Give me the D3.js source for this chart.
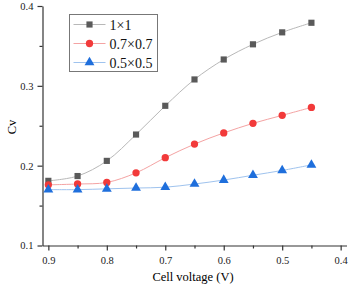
<!DOCTYPE html>
<html>
<head>
<meta charset="utf-8">
<script src="https://cdn.jsdelivr.net/npm/d3@7"></script>
<style>
  body { margin: 0; background: #fff; }
  text { font-family: "Liberation Serif", "Times New Roman", serif; }
</style>
</head>
<body>
<svg id="area" width="354" height="289"></svg>
<script>
const voltages = [0.9, 0.85, 0.8, 0.75, 0.7, 0.65, 0.6, 0.55, 0.5, 0.45];
const cv1x1 = [0.181, 0.187, 0.206, 0.239, 0.275, 0.308, 0.333, 0.352, 0.367, 0.379];
const cv07 = [0.176, 0.177, 0.179, 0.191, 0.210, 0.227, 0.241, 0.253, 0.263, 0.273];
const cv05 = [0.170, 0.170, 0.171, 0.172, 0.173, 0.177, 0.182, 0.188, 0.194, 0.201];
const seriesNames = ['1×1', '0.7×0.7', '0.5×0.5'];
const xTicks = [0.9, 0.8, 0.7, 0.6, 0.5, 0.4];
const yTicks = [0.1, 0.2, 0.3, 0.4];

const series = [
  { name: seriesNames[0], values: cv1x1, marker: d3.symbolSquare, fill: '#5a5a5a', stroke: '#b8b8b8', size: 38 },
  { name: seriesNames[1], values: cv07, marker: d3.symbolCircle, fill: '#f23a3a', stroke: '#f4a3a3', size: 42 },
  { name: seriesNames[2], values: cv05, marker: d3.symbolTriangle, fill: '#1f6fdc', stroke: '#9fc3ee', size: 42 },
];

const svg = d3.select('#area');
const x = d3.scaleLinear().domain([0.91, 0.39]).range([42.5, 346.5]);
const y = d3.scaleLinear().domain([0.1, 0.4]).range([245.5, 6]);

// minor ticks
const xMinor = d3.range(0.85, 0.4, -0.1);
const yMinor = [0.15, 0.25, 0.35];

const xAxis = svg.append('g')
  .attr('transform', `translate(0, ${y(0.1)})`)
  .call(d3.axisBottom(x).tickValues(xTicks).tickFormat(d3.format('.1f')).tickSize(5).tickSizeOuter(0));
svg.append('g')
  .attr('transform', `translate(0, ${y(0.1)})`)
  .call(d3.axisBottom(x).tickValues(xMinor).tickFormat('').tickSize(3).tickSizeOuter(0))
  .select('.domain').remove();

const yAxis = svg.append('g')
  .attr('transform', `translate(${x(0.91)}, 0)`)
  .call(d3.axisLeft(y).tickValues(yTicks).tickFormat(d3.format('.1f')).tickSize(5).tickSizeOuter(0));
svg.append('g')
  .attr('transform', `translate(${x(0.91)}, 0)`)
  .call(d3.axisLeft(y).tickValues(yMinor).tickFormat('').tickSize(3).tickSizeOuter(0))
  .select('.domain').remove();

svg.selectAll('.domain, .tick line').attr('stroke', '#333').attr('stroke-width', 1.2);
svg.selectAll('.tick text')
  .style('font-family', '"Liberation Serif", serif')
  .style('font-size', '10.5px')
  .attr('fill', '#222');
xAxis.selectAll('.tick text').attr('dy', '1.0em');
yAxis.selectAll('.tick text').attr('dx', '-0.1em');

// axis titles
svg.append('text')
  .attr('x', 193).attr('y', 281)
  .attr('text-anchor', 'middle')
  .style('font-size', '12.5px')
  .text('Cell voltage (V)');
svg.append('text')
  .attr('transform', `translate(16, 127) rotate(-90)`)
  .attr('text-anchor', 'middle')
  .style('font-size', '12.5px')
  .text('Cv');

const line = d3.line()
  .curve(d3.curveCatmullRom)
  .x((d, i) => x(voltages[i]))
  .y((d) => y(d));

series.forEach((s) => {
  svg.append('path')
    .datum(s.values)
    .attr('fill', 'none')
    .attr('stroke', s.stroke)
    .attr('stroke-width', 1)
    .attr('d', line);
  svg.selectAll(null)
    .data(s.values)
    .enter().append('path')
    .attr('transform', (d, i) => `translate(${x(voltages[i])}, ${y(d)})`)
    .attr('d', d3.symbol().type(s.marker).size(s.size))
    .attr('fill', s.fill);
});

// legend
const legend = svg.append('g').attr('transform', 'translate(69.5, 14.5)');
legend.append('rect')
  .attr('width', 88).attr('height', 57)
  .attr('fill', '#fff').attr('stroke', '#777').attr('stroke-width', 1);
series.forEach((s, i) => {
  const ly = 10 + i * 19;
  legend.append('line')
    .attr('x1', 4).attr('x2', 36).attr('y1', ly).attr('y2', ly)
    .attr('stroke', s.stroke).attr('stroke-width', 1);
  legend.append('path')
    .attr('transform', `translate(20, ${ly})`)
    .attr('d', d3.symbol().type(s.marker).size(s.size))
    .attr('fill', s.fill);
  legend.append('text')
    .attr('x', 40).attr('y', ly + 5)
    .style('font-size', '14px')
    .attr('fill', '#111')
    .text(s.name);
});
</script>
</body>
</html>
